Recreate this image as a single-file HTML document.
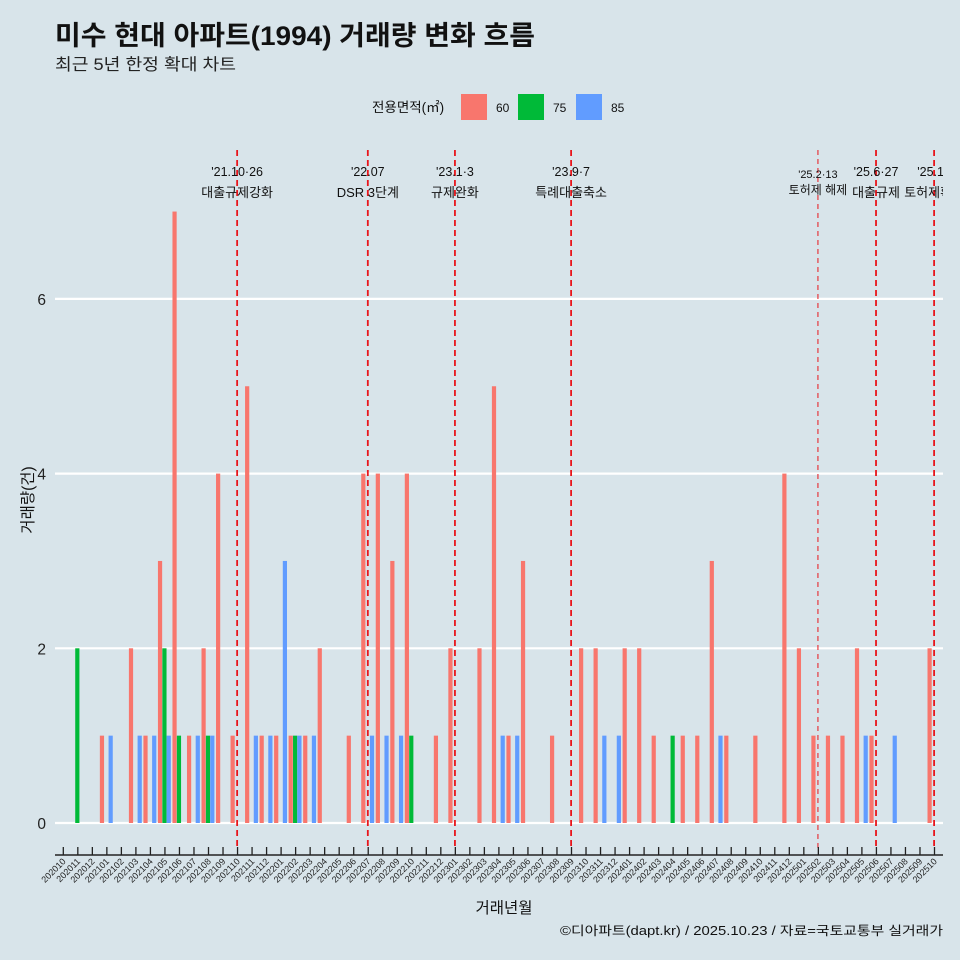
<!DOCTYPE html>
<html><head><meta charset="utf-8"><style>
body{margin:0;background:#d8e4ea;}
svg{display:block;font-family:"Liberation Sans","Noto Sans CJK KR",sans-serif;}
</style></head><body>
<svg id="chart" width="960" height="960" viewBox="0 0 960 960" xmlns="http://www.w3.org/2000/svg">
<rect width="960" height="960" fill="#d8e4ea"/>
<text x="55" y="45" font-size="27" font-weight="bold" fill="#111" textLength="480" lengthAdjust="spacingAndGlyphs">미수 현대 아파트(1994) 거래량 변화 흐름</text>
<text x="55" y="70" font-size="16.5" fill="#222" textLength="181" lengthAdjust="spacingAndGlyphs">최근 5년 한정 확대 차트</text>
<g>
<text x="372" y="112" font-size="13.5" fill="#111">전용면적(㎡)</text>
<rect x="461" y="94" width="26" height="26" fill="#f8766d"/>
<text x="496" y="112" font-size="12" fill="#111">60</text>
<rect x="518" y="94" width="26" height="26" fill="#00ba38"/>
<text x="553" y="112" font-size="12" fill="#111">75</text>
<rect x="576" y="94" width="26" height="26" fill="#619cff"/>
<text x="611" y="112" font-size="12" fill="#111">85</text>
</g>
<defs><clipPath id="pc"><rect x="55" y="140" width="888" height="720"/></clipPath></defs>
<g id="grid"></g>
<g id="bars"></g>
<g id="events" clip-path="url(#pc)"></g>
<g id="axes"></g>
<text x="504" y="913" font-size="15.5" text-anchor="middle" fill="#111">거래년월</text>
<text transform="translate(33,500) rotate(-90)" font-size="15.5" text-anchor="middle" fill="#111">거래량(건)</text>
<text x="943" y="935" font-size="12.5" text-anchor="end" fill="#111" textLength="383" lengthAdjust="spacingAndGlyphs">©디아파트(dapt.kr) / 2025.10.23 / 자료=국토교통부 실거래가</text>
</svg>
<script>
const months = [];
for (let y = 2020, m = 10; months.length < 61; ) { months.push(y + String(m).padStart(2,'0')); m++; if (m > 12) { m = 1; y++; } }
const seriesNames = ['60','75','85'];
const vol60 = {202101:1,202103:2,202104:1,202105:3,202106:7,202107:1,202108:2,202109:4,202110:1,202111:5,202112:1,202201:1,202202:1,202203:1,202204:2,202206:1,202207:4,202208:4,202209:3,202210:4,202212:1,202301:2,202303:2,202304:5,202305:1,202306:3,202308:1,202310:2,202311:2,202401:2,202402:2,202403:1,202405:1,202406:1,202407:3,202408:1,202410:1,202412:4,202501:2,202502:1,202503:1,202504:1,202505:2,202506:1,202510:2};
const vol75 = {202011:2,202105:2,202106:1,202108:1,202202:1,202210:1,202404:1};
const vol85 = {202101:1,202103:1,202104:1,202105:1,202107:1,202108:1,202111:1,202112:1,202201:3,202202:1,202203:1,202207:1,202208:1,202209:1,202304:1,202305:1,202311:1,202312:1,202407:1,202505:1,202507:1};
const yTicks = [0,2,4,6];
const eventDates = [12, 21, 27, 35, 52, 56, 60];
const eventLabels1 = ["'21.10·26","'22.07","'23.1·3","'23.9·7","'25.2·13","'25.6·27","'25.10"];
const eventLabels2 = ["대출규제강화","DSR 3단계","규제완화","특례대출축소","토허제 해제","대출규제","토허제확대"];
const ns='http://www.w3.org/2000/svg';
const X = i => 63.3 + i * 14.52;
const Y = v => 823 - v * 87.35;
function mk(tag, attrs, parent){const e=document.createElementNS(ns,tag);for(const k in attrs)e.setAttribute(k,attrs[k]);parent.appendChild(e);return e;}
const grid=document.getElementById('grid'), bars=document.getElementById('bars'), ev=document.getElementById('events'), ax=document.getElementById('axes');
yTicks.forEach(t=>{
  const l=mk('line',{x1:55,x2:943,y1:Y(t),y2:Y(t),stroke:'#fff','stroke-width':2.2},grid);
  
  
  const tx=mk('text',{x:46,y:Y(t)+6,'font-size':15.5,'text-anchor':'end',fill:'#222'},ax);
  tx.textContent=t;
  
  
});
const colors=['#f8766d','#00ba38','#619cff'];
const offs=[-4.9,-0.5,3.8];
[vol60,vol75,vol85].forEach((s,si)=>{
  months.forEach((m,i)=>{
    const v=s[m]; if(!v) return;
    const cx=X(i)+offs[si];
    const r=mk('rect',{x:cx-2.1,y:Y(v),width:4.2,height:Y(0)-Y(v),fill:colors[si]},bars);
    
    
  });
});
eventDates.forEach((d,i)=>{
  const x=X(d)-0.4;
  const thin = i===4;
  const l=mk('line',{x1:x,x2:x,y1:150,y2:850,stroke:'#e8151b','stroke-width':thin?1:1.8,'stroke-dasharray':thin?'5,4':'6,4'},ev);
  
  
  const t1=mk('text',{x:x,y:thin?178:176,'font-size':thin?11:12.5,'text-anchor':'middle',fill:'#111'},ev);
  t1.textContent=eventLabels1[i];
  
  
  const t2=mk('text',{x:x,y:thin?194:197,'font-size':thin?12:13,'text-anchor':'middle',fill:'#111'},ev);
  t2.textContent=eventLabels2[i];
  
  
});
const al=mk('line',{x1:55,x2:943,y1:855,y2:855,stroke:'#222','stroke-width':1.5},ax);


months.forEach((m,i)=>{
  const x=X(i);
  const tk=mk('line',{x1:x,x2:x,y1:847,y2:855,stroke:'#222','stroke-width':1.3},ax);
  
  
  const t=mk('text',{x:x+3,y:862,'font-size':9,'text-anchor':'end',fill:'#222',transform:`rotate(-45 ${x+3} 862)`},ax);
  t.textContent=m;
  
  
});
</script>
</body></html>
